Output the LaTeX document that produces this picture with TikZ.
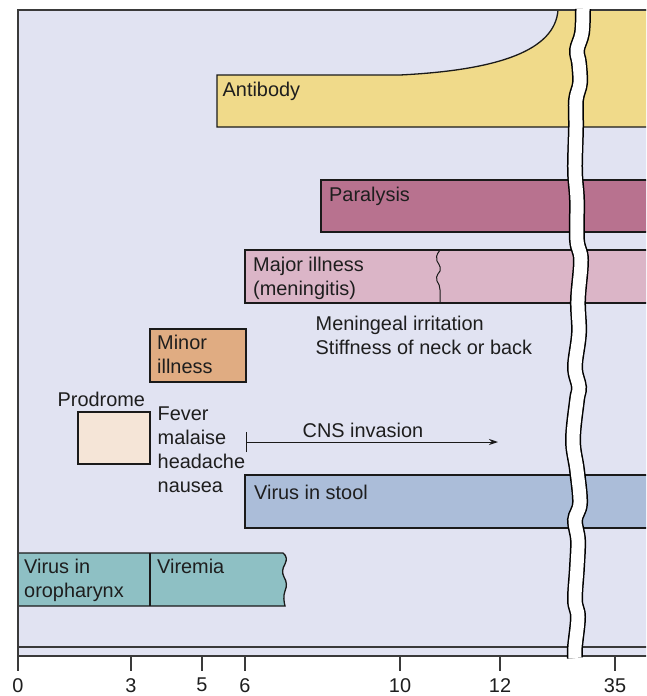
\documentclass[tikz,border=0pt]{standalone}
\usepackage{fontspec}
\setmainfont{Liberation Sans}
\usetikzlibrary{arrows.meta}
\definecolor{panelbg}{HTML}{E1E3F2}
\definecolor{antibodyc}{HTML}{F0DA8A}
\definecolor{paralysisc}{HTML}{B8728F}
\definecolor{majorc}{HTML}{DBB5C7}
\definecolor{minorc}{HTML}{E0AC82}
\definecolor{prodromec}{HTML}{F5E5D7}
\definecolor{stoolc}{HTML}{ABBDD9}
\definecolor{oroc}{HTML}{8EC0C4}
\definecolor{txt}{HTML}{1E1E1E}
\definecolor{edge}{HTML}{1A1A1A}
\definecolor{frame}{HTML}{3A3A3A}
\begin{document}
\begin{tikzpicture}[x=1pt,y=-1pt,
  font=\fontsize{19.9}{24}\selectfont,
  lbl/.style={anchor=base west,inner sep=0pt,text=txt},
  ticklbl/.style={anchor=north,inner sep=0pt,text=txt},
  boxline/.style={draw=edge,line width=1.3pt},
  frameline/.style={draw=frame,line width=1.5pt}]
\clip (0,0) rectangle (646,696);
\fill[white] (0,0) rectangle (646,696);
% panel
\fill[panelbg] (18,10) rectangle (650,656);
% antibody
\path[boxline,fill=antibodyc] (650,127) -- (217,127) -- (217,75) -- (400,75)
  .. controls (500,70) and (555,50) .. (558,10) -- (650,10);
% paralysis
\path[boxline,fill=paralysisc] (650,232) -- (321,232) -- (321,180) -- (650,180);
% major illness
\path[boxline,fill=majorc] (650,303) -- (245,303) -- (245,250) -- (650,250);
\draw[edge,line width=1pt] (440,250) .. controls (436,255) and (436,258) .. (437,261)
  .. controls (440,266) and (441,268) .. (440,271)
  .. controls (436,276) and (436,279) .. (437,281)
  .. controls (441,286) and (440,292) .. (440,303);
% minor illness
\draw[boxline,fill=minorc] (150,329) rectangle (246,382);
% prodrome
\draw[boxline,fill=prodromec] (78,412) rectangle (150,464);
% virus in stool
\path[boxline,fill=stoolc] (650,528) -- (245,528) -- (245,475) -- (650,475);
% oropharynx / viremia
\draw[boxline,fill=oroc] (18,553) -- (283,553)
  .. controls (287,556) and (287,560) .. (285,564)
  .. controls (282,569) and (282,573) .. (284,577)
  .. controls (287,582) and (287,586) .. (285,591)
  .. controls (283,596) and (284,602) .. (285,606) -- (18,606) -- cycle;
\draw[boxline] (150,553) -- (150,606);
% frame lines
\draw[frameline] (18,656) -- (18,10) -- (650,10);
\draw[frameline] (18,647) -- (650,647);
\draw[frameline] (18,656) -- (650,656);
% texts
\node[lbl] (antibody) at (222.5,96) {Antibody};
\node[lbl] (paralysis) at (329,201.5) {Paralysis};
\node[lbl] (major1) at (253,271) {Major illness};
\node[lbl] (major2) at (253,295) {(meningitis)};
\node[lbl] (mening1) at (315.5,330.5) {Meningeal irritation};
\node[lbl] (mening2) at (315.5,354.5) {Stiffness of neck or back};
\node[lbl] (minor1) at (157,349.5) {Minor};
\node[lbl] (minor2) at (157,373) {illness};
\node[lbl] (prodrome) at (57.5,406) {Prodrome};
\node[lbl] (fever) at (157.5,420) {Fever};
\node[lbl] (malaise) at (157.5,444) {malaise};
\node[lbl] (headache) at (157.5,468) {headache};
\node[lbl] (nausea) at (157.5,492) {nausea};
\node[lbl] (cns) at (302.5,437) {CNS invasion};
\node[lbl] (stool) at (254,499.5) {Virus in stool};
\node[lbl] (oro1) at (24,573.5) {Virus in};
\node[lbl] (oro2) at (24,597.5) {oropharynx};
\node[lbl] (viremia) at (157,573.5) {Viremia};
% CNS arrow
\coordinate (cnsa) at (245.5,442);
\coordinate (cnsb) at (498,442);
\draw[edge,line width=1pt,{Bar[width=20pt]}-{Stealth[length=9pt,width=6pt]}] (cnsa) -- (cnsb);
% axis ticks and labels
\foreach \x/\t in {18/0,131/3,202/5,245/6,400/10,500/12,615/35}{
  \draw[frameline] (\x,656) -- (\x,671);
  \node[ticklbl] (tick\t) at (\x,678) {\t};
}
% break
\def\breakpts{(583,9) (582,33) (577,50) (579,63) (580,83) (576,100) (576,127) (575,170) (577,200)
 (577,240) (581,260) (578,300) (579,333) (575,367) (579,387) (577,400) (573,440)
 (577,470) (580,503) (575,520) (578,540) (577,567) (575,600) (578,617) (575,647) (575,658)}
\draw[black,line width=16pt,line cap=butt] plot[smooth,tension=0.6] coordinates {\breakpts};
\draw[white,line width=13pt,line cap=butt] plot[smooth,tension=0.6] coordinates {\breakpts};
\fill[white] (560,0) rectangle (600,8.2);
\end{tikzpicture}
\end{document}
